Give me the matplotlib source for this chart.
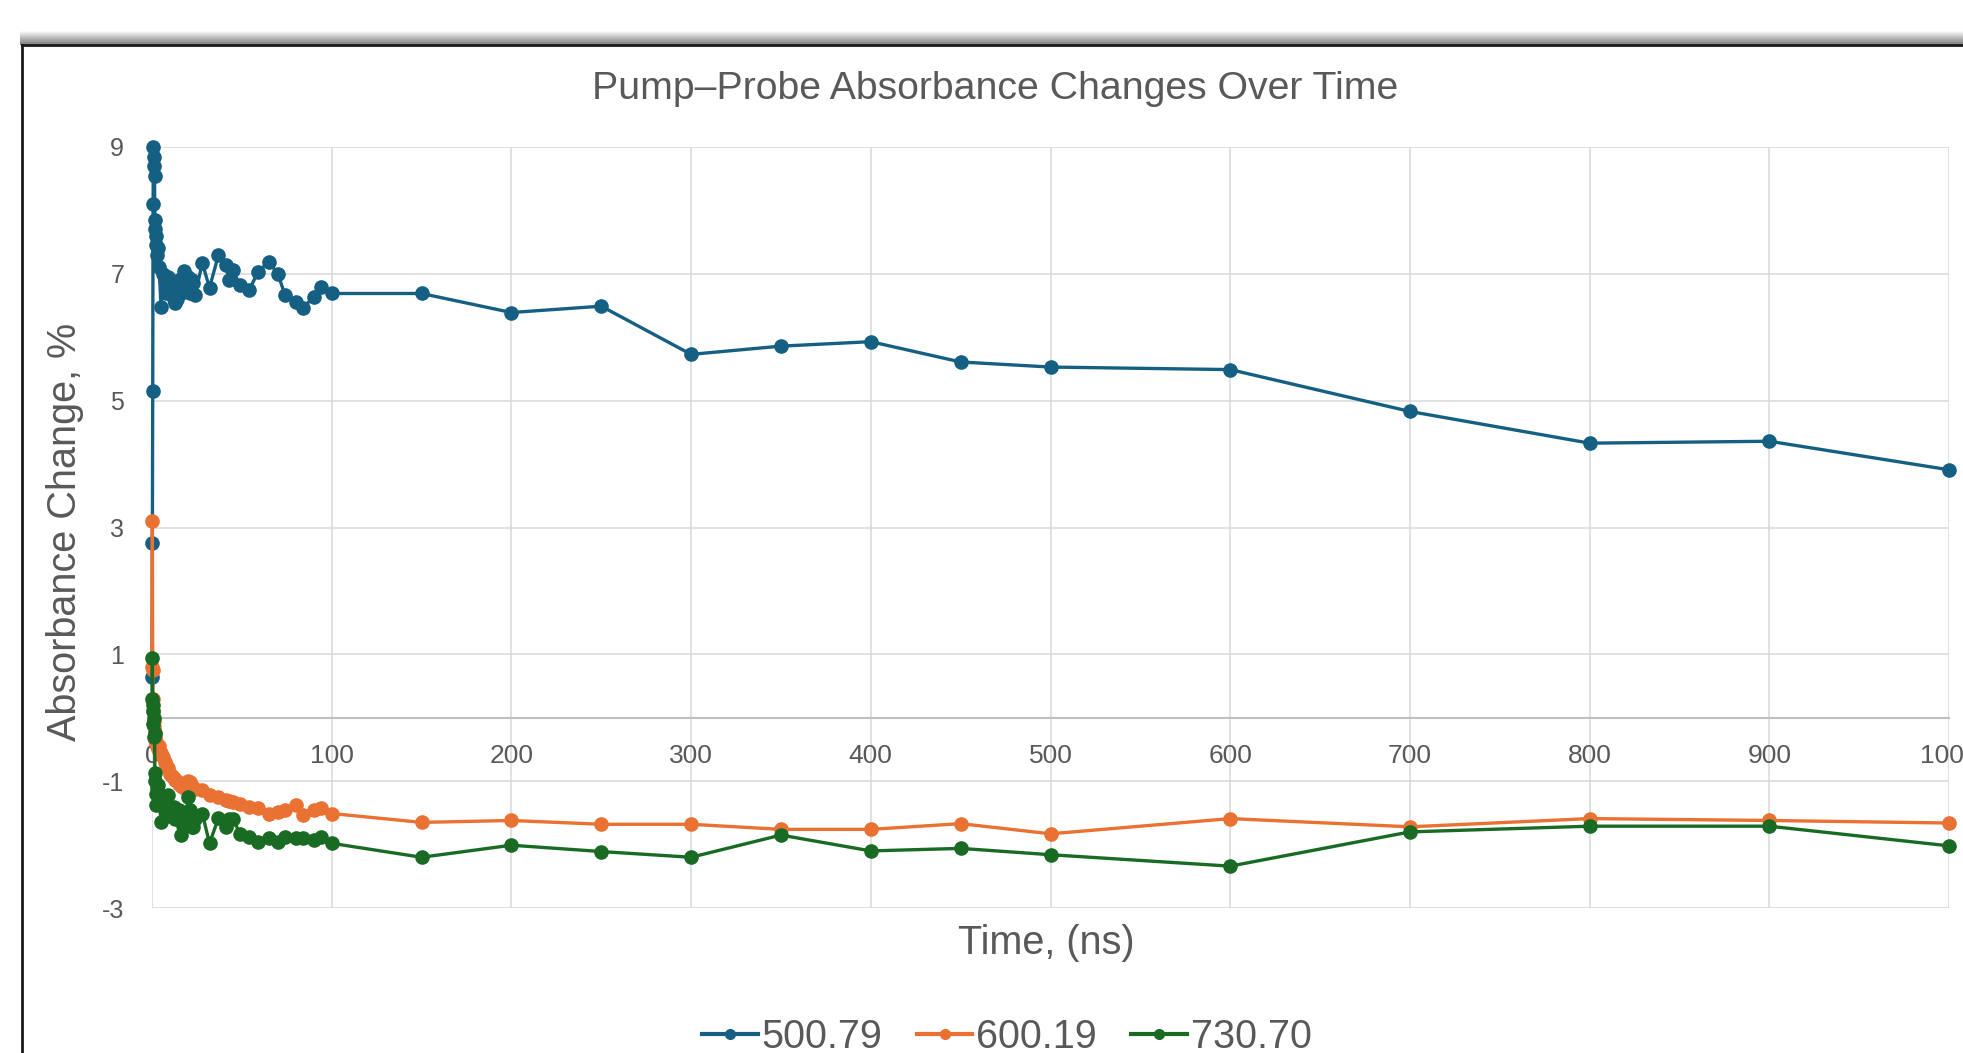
import matplotlib
matplotlib.use('Agg')
import matplotlib.pyplot as plt
from matplotlib.lines import Line2D

# Данные: время задержки (нс) и изменение поглощения (%) для трёх длин волн
time_ns = [0, 0.2, 0.4, 0.6, 0.8, 1.0, 1.2, 1.4, 1.6, 1.8, 2.0, 2.5, 3, 3.5, 4,
           5, 6, 7, 8, 9, 10, 11, 12, 13, 14, 15, 16, 17, 18, 19, 20, 21, 22, 23, 24,
           28, 32, 37, 41, 43, 45, 49, 54, 59, 65, 70, 74, 80, 84, 90, 94, 100,
           150, 200, 250, 300, 350, 400, 450, 500, 600, 700, 800, 900, 1000]

abs_500_79 = [0.64, 2.75, 5.15, 8.10, 9.00, 8.85, 8.70, 8.55, 7.85, 7.70, 7.60, 7.45, 7.30, 7.40, 7.10,
              6.48, 7.00, 6.90, 6.70, 6.95, 6.70, 6.85, 6.60, 6.54, 6.60, 6.90, 6.70, 6.95, 7.05, 6.80,
              6.95, 6.70, 6.90, 6.85, 6.67,
              7.17, 6.78, 7.30, 7.14, 6.90, 7.06, 6.82, 6.74, 7.03, 7.19, 7.00, 6.67, 6.56, 6.46, 6.64,
              6.80, 6.69,
              6.69, 6.39, 6.49, 5.73, 5.86, 5.93, 5.61, 5.53, 5.49, 4.83, 4.33, 4.36, 3.91]

abs_600_19 = [0.80, 3.10, 0.75, 0.30, 0.10, -0.05, -0.15, -0.25, -0.30, -0.35, -0.38, -0.42, -0.45, -0.50, -0.45,
              -0.56, -0.62, -0.69, -0.75, -0.80, -0.88, -0.92, -0.95, -0.98, -1.00, -1.05, -1.08, -1.06, -1.10,
              -1.05, -1.00, -1.02, -1.08, -1.10, -1.12,
              -1.14, -1.22, -1.25, -1.30, -1.31, -1.33, -1.36, -1.40, -1.43, -1.51, -1.48, -1.46, -1.38, -1.54,
              -1.46, -1.43, -1.51,
              -1.65, -1.62, -1.68, -1.68, -1.76, -1.76, -1.67, -1.83, -1.59, -1.72, -1.59, -1.62, -1.66]

abs_730_70 = [0.30, 0.95, 0.20, -0.10, 0.10, -0.30, 0.00, -0.24, -0.87, -1.00, -1.20, -1.38, -1.10, -1.06, -1.30,
              -1.64, -1.25, -1.45, -1.35, -1.22, -1.55, -1.51, -1.40, -1.60, -1.50, -1.46, -1.85, -1.70, -1.55,
              -1.60, -1.25, -1.45, -1.72, -1.72, -1.60,
              -1.51, -1.98, -1.58, -1.72, -1.60, -1.59, -1.83, -1.88, -1.96, -1.90, -1.96, -1.88, -1.90, -1.90,
              -1.93, -1.88, -1.98,
              -2.20, -2.01, -2.11, -2.20, -1.85, -2.10, -2.06, -2.16, -2.34, -1.80, -1.71, -1.71, -2.02]

series_labels = ['500.79', '600.19', '730.70']
series_colors = ['#156082', '#E97132', '#196B24']
x_ticks = list(range(0, 1001, 100))
y_ticks = [-3, -1, 1, 3, 5, 7, 9]

TEXT_COLOR = '#595959'
W, H = 1963, 1053


def main():
    plt.rcParams['font.family'] = ['Liberation Sans', 'DejaVu Sans']
    plt.rcParams['axes.unicode_minus'] = False

    fig = plt.figure(figsize=(W / 100, H / 100), dpi=100)
    fig.patch.set_facecolor('white')

    # область построения (в пикселях исходного скриншота)
    left, right, top, bottom = 152, 1949, 147, 908
    ax = fig.add_axes([left / W, 1 - bottom / H, (right - left) / W, (bottom - top) / H])

    all_series = [abs_500_79, abs_600_19, abs_730_70]
    for values, color, label in zip(all_series, series_colors, series_labels):
        ax.plot(time_ns, values, '-o', color=color, lw=2.4, ms=9.5,
                label=label, clip_on=False, zorder=3)

    ax.set_xlim(0, 1000)
    ax.set_ylim(-3, 9)
    ax.set_xticks(x_ticks)
    ax.set_xticklabels([str(t) for t in x_ticks])
    ax.set_yticks(y_ticks)
    ax.set_axisbelow(True)
    ax.grid(True, color='#D9D9D9', lw=1.1)

    for side in ['top', 'right', 'left']:
        ax.spines[side].set_visible(False)
    ax.spines['bottom'].set_position(('data', 0))
    ax.spines['bottom'].set_color('#BFBFBF')
    ax.spines['bottom'].set_linewidth(1.5)

    ax.tick_params(axis='both', length=0, colors=TEXT_COLOR)
    ax.tick_params(axis='x', labelsize=19, pad=19)
    ax.tick_params(axis='y', labelsize=18, pad=20)

    # заголовок и подписи осей
    fig.text(995 / W, 1 - 89 / H, 'Pump\u2013Probe Absorbance Changes Over Time',
             ha='center', va='center', fontsize=28.3, color=TEXT_COLOR)
    fig.text(65 / W, 1 - 532 / H, 'Absorbance Change, %', rotation=90,
             ha='center', va='center', fontsize=28.5, color=TEXT_COLOR)
    fig.text(1046 / W, 1 - 943 / H, 'Time, (ns)',
             ha='center', va='center', fontsize=28.5, color=TEXT_COLOR)

    # легенда
    handles = [Line2D([], [], color=c, lw=3, marker='o', ms=7) for c in series_colors]
    fig.legend(handles, series_labels, loc='center', bbox_to_anchor=(1007 / W, 1 - 1037 / H),
               ncol=3, frameon=False, fontsize=28.5, labelcolor=TEXT_COLOR,
               handlelength=1.4, handletextpad=0.1, columnspacing=0.87)

    # рамка диаграммы и тень над ней
    for i in range(14):
        y = 31 + i
        fig.add_artist(Line2D([20 / W, 1], [1 - y / H, 1 - y / H], transform=fig.transFigure,
                              color='black', alpha=0.02 + 0.035 * i, lw=0.8))
    fig.add_artist(Line2D([21.5 / W, 1], [1 - 45 / H, 1 - 45 / H], transform=fig.transFigure,
                          color='#1a1a1a', lw=2))
    fig.add_artist(Line2D([21.5 / W, 21.5 / W], [1 - 45 / H, 0], transform=fig.transFigure,
                          color='#1a1a1a', lw=2))

    fig.savefig('out.png', dpi=100)


if __name__ == "__main__":
    main()
